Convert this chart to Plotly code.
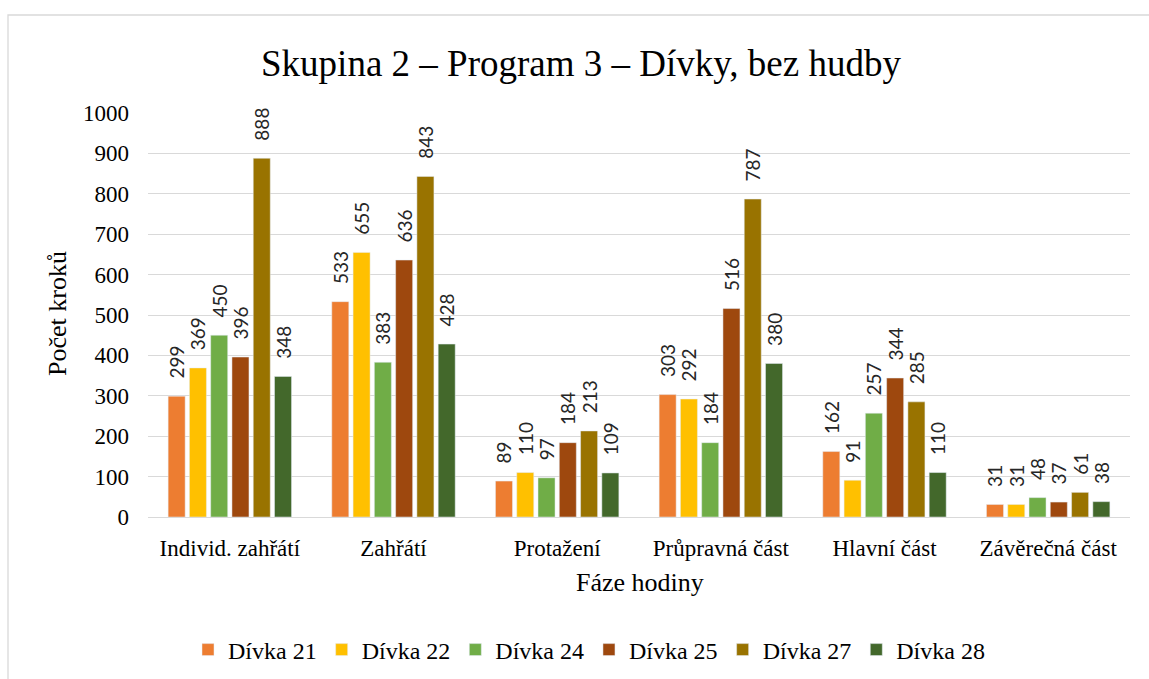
import plotly.graph_objects as go

categories = ["Individ. zahřátí", "Zahřátí", "Protažení", "Průpravná část", "Hlavní část", "Závěrečná část"]
series_names = ["Dívka 21", "Dívka 22", "Dívka 24", "Dívka 25", "Dívka 27", "Dívka 28"]
d21 = [299, 533, 89, 303, 162, 31]
d22 = [369, 655, 110, 292, 91, 31]
d24 = [450, 383, 97, 184, 257, 48]
d25 = [396, 636, 184, 516, 344, 37]
d27 = [888, 843, 213, 787, 285, 61]
d28 = [348, 428, 109, 380, 110, 38]
series_values = [d21, d22, d24, d25, d27, d28]
colors = ["#ED7D31", "#FFC000", "#70AD47", "#9E480E", "#997300", "#43682B"]
y_ticks = list(range(0, 1001, 100))

serif = "Liberation Serif"
W, H = 1149, 679
L, R, T, B = 148, 19, 113, 162
PW, PH = W - L - R, H - T - B

fig = go.Figure()
for name, vals, col in zip(series_names, series_values, colors):
    fig.add_trace(go.Bar(
        name=name, x=categories, y=vals, marker_color=col,
        text=[str(v) for v in vals], texttemplate="\u00a0\u00a0\u00a0%{text}",
        textposition="outside", textangle=-90,
        textfont=dict(family="Lato", size=19, color="#262626"),
        cliponaxis=False,
    ))

fig.update_layout(
    width=W, height=H,
    paper_bgcolor="white", plot_bgcolor="white",
    margin=dict(l=L, r=R, t=T, b=B, autoexpand=False),
    barmode="group", bargap=0.22, bargroupgap=0.2,
    title=dict(text="Skupina 2 – Program 3 – Dívky, bez hudby", x=581 / W, xanchor="center",
               y=1 - 63 / H, yanchor="middle",
               font=dict(family=serif, size=37, color="#000000")),
    font=dict(family=serif, size=22, color="#000000"),
    legend=dict(orientation="h", xref="container", x=589 / W, xanchor="center",
                yref="container", y=1 - 650 / H, yanchor="middle",
                font=dict(family=serif, size=24, color="#000000"),
                itemwidth=30, traceorder="normal"),
    uniformtext=dict(minsize=19, mode="show"),
)
fig.update_yaxes(range=[0, 1000], tickvals=y_ticks, showgrid=True, gridcolor="#d9d9d9",
                 gridwidth=1.3, zeroline=False, showline=False, ticks="", automargin=False,
                 tickfont=dict(family=serif, size=23), ticklabelstandoff=18)
fig.update_xaxes(showline=True, linecolor="#d9d9d9", linewidth=1.3, ticks="", automargin=False,
                 tickfont=dict(family=serif, size=23), ticklabelstandoff=10)

# axis titles
fig.add_annotation(text="Fáze hodiny", xref="paper", yref="paper",
                   x=(640 - L) / PW, y=(H - B - 582) / PH, xanchor="center", yanchor="middle",
                   showarrow=False, font=dict(family=serif, size=26, color="#000000"))
fig.add_annotation(text="Počet kroků", xref="paper", yref="paper", textangle=-90,
                   x=(57 - L) / PW, y=(H - B - 314) / PH, xanchor="center", yanchor="middle",
                   showarrow=False, font=dict(family=serif, size=26, color="#000000"))

# outer chart border
fig.add_shape(type="rect", xref="paper", yref="paper",
              x0=(8 - L) / PW, x1=(1160 - L) / PW,
              y0=(H - B - 700) / PH, y1=(H - B - 15) / PH,
              line=dict(color="#d9d9d9", width=1.3), fillcolor="rgba(0,0,0,0)", layer="below")

fig.write_html("out.html", config={"displayModeBar": False},
               post_script="document.body.style.margin='0';")
